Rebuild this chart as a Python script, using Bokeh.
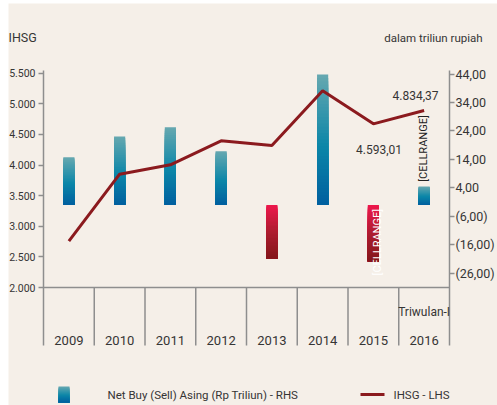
import math
from bokeh.plotting import figure
from bokeh.models import Range1d, LinearAxis, FixedTicker, Label, BoxAnnotation
from bokeh.embed import file_html
from bokeh.resources import INLINE

# ---------------- data ----------------
years = ["2009", "2010", "2011", "2012", "2013", "2014", "2015", "2016"]
year_top_note = "Triwulan-I"
ihsg = [2756, 3851, 4004, 4396, 4319, 5213, 4673, 4891]
net_buy = [14.8, 22.1, 25.3, 16.9, -20.7, 43.8, -21.8, 4.5]
bar_base = -2.0

left_ticks = [2000, 2500, 3000, 3500, 4000, 4500, 5000, 5500]
left_tick_labels = ["2.000", "2.500", "3.000", "3.500", "4.000", "4.500", "5.000", "5.500"]
right_ticks = [-26, -16, -6, 4, 14, 24, 34, 44]
right_tick_labels = ["(26,00)", "(16,00)", "(6,00)", "4,00", "14,00", "24,00", "34,00", "44,00"]
right_lo, right_hi = -31.0, 44.3

label_2015 = "4.593,01"
label_2016 = "4.834,37"
cellrange = "[CELLRANGE]"
left_title = "IHSG"
right_title = "dalam  triliun rupiah"
legend_bar = "Net Buy (Sell) Asing (Rp Triliun) - RHS"
legend_line = "IHSG - LHS"

# ---------------- style / layout (pixels) ----------------
BG = "#F5EFE8"
AXIS = "#8E8E8E"
TXT = "#353535"
LINE = "#8B1A1E"
FONT = "Roboto"
POS_STOPS = [(0.0, (0x66, 0xA8, 0xB0)), (0.55, (0x0B, 0x86, 0xA8)), (1.0, (0x00, 0x5F, 0x9F))]
NEG_STOPS = [(0.0, (0xEE, 0x17, 0x4C)), (0.5, (0xAE, 0x1C, 0x30)), (1.0, (0x84, 0x16, 0x1A))]

CW, CH = 489, 402            # canvas size (the whole canvas is the plot frame)
PLOT_L, PLOT_R = 35, 441     # plot area x (canvas px)
PLOT_T, PLOT_B = 69.7, 284   # plot area y (canvas px from top)
AXIS_TOP = 67                # where the vertical axis lines start
BAND_B = 342                 # bottom of category band


def grad(stops, t):
    for (p0, c0), (p1, c1) in zip(stops[:-1], stops[1:]):
        if t <= p1:
            f = (t - p0) / (p1 - p0) if p1 > p0 else 0
            c = [round(a + (b - a) * f) for a, b in zip(c0, c1)]
            return "#%02x%02x%02x" % tuple(c)
    return "#%02x%02x%02x" % stops[-1][1]


n = len(years)
px_x = (PLOT_R - PLOT_L) / n
px_l = (PLOT_B - PLOT_T) / (left_ticks[-1] - left_ticks[0])
px_r = (PLOT_B - PLOT_T) / (right_hi - right_lo)


def ly(py):   # canvas y -> left-axis value
    return left_ticks[0] + (PLOT_B - py) / px_l


def ry(py):   # canvas y -> right-axis value
    return right_lo + (PLOT_B - py) / px_r


p = figure(width=CW, height=CH,
           x_range=Range1d(-PLOT_L / px_x, n + (CW - PLOT_R) / px_x),
           y_range=Range1d(ly(CH), ly(0)),
           output_backend="svg", toolbar_location=None,
           x_axis_location=None, y_axis_location=None,
           min_border=0, background_fill_color=BG, border_fill_color=BG,
           outline_line_color=None)
p.margin = (3, 0, 0, 8)
p.extra_y_ranges = {"right": Range1d(ry(CH), ry(0))}
p.grid.visible = False


def style_axis(a, size, standoff, tick_out):
    a.major_label_text_font = FONT
    a.major_label_text_font_size = size
    a.major_label_text_color = TXT
    a.major_tick_out = tick_out
    a.major_tick_in = 0
    a.minor_tick_line_color = None
    a.axis_line_color = AXIS
    a.axis_line_width = 1.5
    a.major_tick_line_color = AXIS
    a.major_tick_line_width = 1.5
    a.major_label_standoff = standoff


la = LinearAxis(ticker=FixedTicker(ticks=left_ticks), fixed_location=0,
                bounds=(ly(BAND_B), ly(AXIS_TOP)))
la.major_label_overrides = {t: s for t, s in zip(left_ticks, left_tick_labels)}
style_axis(la, "10.5px", 3, 5)
p.add_layout(la, "left")

ra = LinearAxis(y_range_name="right", ticker=FixedTicker(ticks=right_ticks), fixed_location=n,
                bounds=(ry(BAND_B), ry(AXIS_TOP)))
ra.major_label_overrides = {t: s for t, s in zip(right_ticks, right_tick_labels)}
style_axis(ra, "12.5px", 1, 5)
p.add_layout(ra, "right")

# category axis line and dividers
p.segment(x0=[0], y0=[left_ticks[0]], x1=[n], y1=[left_ticks[0]],
          line_color=AXIS, line_width=1.5)
p.segment(x0=list(range(1, n)), y0=[left_ticks[0]] * (n - 1),
          x1=list(range(1, n)), y1=[ly(BAND_B)] * (n - 1),
          line_color=AXIS, line_width=1.5)

# gradient bars (overlapping layers, top band painted first)
N = 40
W = 0.22
L, R, B, T, C = [], [], [], [], []
for i, v in enumerate(net_buy):
    xc = i + 0.5
    top, bot = (v, bar_base) if v >= bar_base else (bar_base, v)
    stops = POS_STOPS if v >= bar_base else NEG_STOPS
    h = top - bot
    for k in range(N):
        L.append(xc - W / 2); R.append(xc + W / 2)
        T.append(top - h * k / N); B.append(bot)
        C.append(grad(stops, (k + 0.5) / N))
p.quad(left=L, right=R, top=T, bottom=B, fill_color=C, line_color=None,
       y_range_name="right")

# IHSG line
xs = [i + 0.5 for i in range(n)]
p.line(xs, ihsg, line_color=LINE, line_width=3)


def lab(x, y, text, size, align="center", angle=0.0, color=TXT, x_units="screen"):
    p.add_layout(Label(x=x, y=y, x_units=x_units, y_units="screen", text=text,
                       text_font=FONT, text_font_size=size, text_color=color,
                       text_align=align, text_baseline="middle", angle=angle))


def sy(py):   # canvas y from top -> screen y from bottom
    return CH - py


lab(0, sy(34), left_title, "12.5px", align="left")
lab(477, sy(34), right_title, "11.5px", align="right")
lab(407, sy(92), label_2016, "12px")
lab(370.5, sy(146), label_2015, "12px")
lab(415, sy(145), cellrange, "11px", angle=math.pi / 2, color="#222222")
lab(368.7, sy(238.7), cellrange, "11px", angle=math.pi / 2, color="#FFFFFF")

for i, yr in enumerate(years):
    lab(i + 0.5, sy(337), yr, "13px", x_units="data")
lab(n - 0.5, sy(308), year_top_note, "12px", x_units="data")

# legend
LEG_Y = 391
NL = 16
for k in range(NL):
    c = grad(POS_STOPS, (k + 0.5) / NL)
    p.add_layout(BoxAnnotation(left=50, right=61, top=sy(LEG_Y - 8 + 16 * k / NL), bottom=sy(LEG_Y + 8),
                               left_units="screen", right_units="screen",
                               top_units="screen", bottom_units="screen",
                               fill_color=c, fill_alpha=1, line_color=None))
lab(99, sy(LEG_Y), legend_bar, "11.5px", align="left")
p.add_layout(BoxAnnotation(left=352, right=376, top=sy(LEG_Y - 1.5), bottom=sy(LEG_Y + 1.5),
                           left_units="screen", right_units="screen",
                           top_units="screen", bottom_units="screen",
                           fill_color=LINE, fill_alpha=1, line_color=None))
lab(385, sy(LEG_Y), legend_line, "11.5px", align="left")

open("out.html", "w").write(file_html(p, INLINE))
